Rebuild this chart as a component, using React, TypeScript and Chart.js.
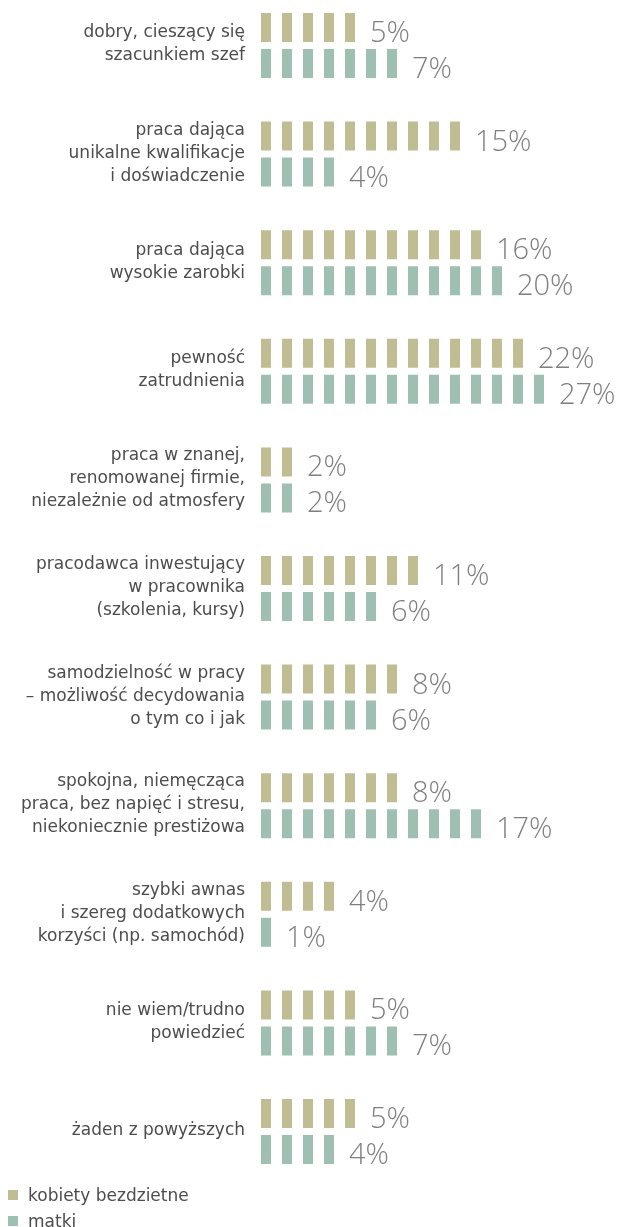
import React, { useEffect, useRef } from "react";
import { Chart, registerables } from "chart.js";

Chart.register(...registerables);

const categories: string[][] = [
  ["dobry, cieszący się", "szacunkiem szef"],
  ["praca dająca", "unikalne kwalifikacje", "i doświadczenie"],
  ["praca dająca", "wysokie zarobki"],
  ["pewność", "zatrudnienia"],
  ["praca w znanej,", "renomowanej firmie,", "niezależnie od atmosfery"],
  ["pracodawca inwestujący", "w pracownika", "(szkolenia, kursy)"],
  ["samodzielność w pracy", "– możliwość decydowania", "o tym co i jak"],
  ["spokojna, niemęcząca", "praca, bez napięć i stresu,", "niekoniecznie prestiżowa"],
  ["szybki awnas", "i szereg dodatkowych", "korzyści (np. samochód)"],
  ["nie wiem/trudno", "powiedzieć"],
  ["żaden z powyższych"],
];

const seriesNames = ["kobiety bezdzietne", "matki"];

// percentages shown as labels
const kobietyPct = [5, 15, 16, 22, 2, 11, 8, 8, 4, 5, 5];
const matkiPct = [7, 4, 20, 27, 2, 6, 6, 17, 1, 7, 4];

// number of pictogram blocks drawn in each bar
const kobietyBlocks = [5, 10, 11, 13, 2, 8, 7, 7, 4, 5, 5];
const matkiBlocks = [7, 4, 12, 14, 2, 6, 6, 11, 1, 7, 4];

const colors = ["#c0bd94", "#9fbfb2"];
const pctLabels = [kobietyPct, matkiPct];

const LABEL_FONT = "'DejaVu Sans', sans-serif";

const blockGapPlugin = {
  id: "blockGaps",
  afterDatasetsDraw(chart: any) {
    const ctx = chart.ctx;
    const x = chart.scales.x;
    const unit = x.getPixelForValue(1) - x.getPixelForValue(0);
    const blockW = (unit * 10) / 21;
    ctx.save();
    ctx.fillStyle = "#ffffff";
    chart.data.datasets.forEach((ds: any, di: number) => {
      const meta = chart.getDatasetMeta(di);
      meta.data.forEach((el: any, i: number) => {
        const n = ds.data[i];
        const { y, height } = el.getProps(["y", "height"], true);
        const top = y - height / 2;
        for (let k = 0; k < n; k++) {
          const gx0 = x.getPixelForValue(k) + blockW;
          const gx1 = x.getPixelForValue(k + 1);
          ctx.fillRect(gx0, top - 1, gx1 - gx0, height + 2);
        }
      });
    });
    ctx.restore();
  },
};

const valueLabelPlugin = {
  id: "valueLabels",
  afterDatasetsDraw(chart: any) {
    const ctx = chart.ctx;
    ctx.save();
    ctx.fillStyle = "#7f7f7f";
    ctx.font = "300 29px 'Open Sans', sans-serif";
    ctx.textAlign = "left";
    ctx.textBaseline = "alphabetic";
    chart.data.datasets.forEach((ds: any, di: number) => {
      const meta = chart.getDatasetMeta(di);
      meta.data.forEach((el: any, i: number) => {
        const { x, y, height } = el.getProps(["x", "y", "height"], true);
        ctx.fillText(pctLabels[di][i] + "%", x + 4, y + height / 2);
      });
    });
    ctx.restore();
  },
};

export default function App() {
  const ref = useRef<HTMLCanvasElement | null>(null);

  useEffect(() => {
    document.body.style.margin = "0";
    if (!ref.current) return;
    const chart = new Chart(ref.current, {
      type: "bar",
      data: {
        labels: categories,
        datasets: [
          {
            label: seriesNames[0],
            data: kobietyBlocks,
            backgroundColor: colors[0],
            categoryPercentage: 72 / 108.6,
            barPercentage: 29 / 36,
            clip: false as any,
          },
          {
            label: seriesNames[1],
            data: matkiBlocks,
            backgroundColor: colors[1],
            categoryPercentage: 72 / 108.6,
            barPercentage: 29 / 36,
            clip: false as any,
          },
        ],
      },
      options: {
        indexAxis: "y",
        animation: false,
        responsive: false,
        layout: { padding: { top: 45.5, bottom: 95.5, left: 0, right: 2 } },
        plugins: {
          legend: { display: false },
          tooltip: { enabled: false },
        },
        scales: {
          x: {
            type: "linear",
            min: 0,
            max: 17,
            display: false,
          },
          y: {
            type: "category",
            offset: false,
            grid: { display: false, drawTicks: false },
            border: { display: false },
            afterFit: (s: any) => {
              s.width = 261;
            },
            ticks: {
              autoSkip: false,
              padding: 16,
              labelOffset: -1,
              color: "#4d4d4d",
              font: { family: LABEL_FONT, size: 17, lineHeight: "23px" },
            },
          },
        },
      },
      plugins: [blockGapPlugin, valueLabelPlugin],
    });
    return () => chart.destroy();
  }, []);

  const legendItem = (i: number, top: number) => (
    <div
      key={i}
      style={{
        position: "absolute",
        left: 8,
        top,
        display: "flex",
        alignItems: "center",
        fontFamily: LABEL_FONT,
        fontSize: 17,
        color: "#4d4d4d",
        lineHeight: "22px",
        whiteSpace: "nowrap",
      }}
    >
      <span style={{ width: 10, height: 10, background: colors[i], display: "inline-block", marginRight: 10 }} />
      {seriesNames[i]}
    </div>
  );

  return (
    <div style={{ position: "relative", width: 620, height: 1227, overflow: "hidden", background: "#fff" }}>
      <canvas ref={ref} width={620} height={1227} style={{ display: "block" }} />
      {legendItem(0, 1184)}
      {legendItem(1, 1210)}
    </div>
  );
}
